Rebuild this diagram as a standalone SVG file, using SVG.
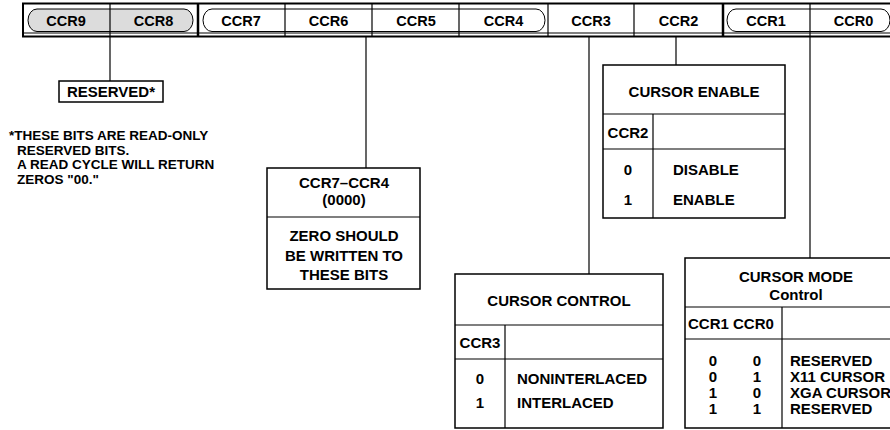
<svg xmlns="http://www.w3.org/2000/svg" width="890" height="430" viewBox="0 0 890 430">
<style>
.t{font-family:"Liberation Sans",Arial,Helvetica,sans-serif;font-weight:bold;fill:#000}
.bar{font-size:14.5px;text-anchor:middle}
.tb{font-size:15px}
.c{text-anchor:middle}
.fn{font-size:13.5px}
.box{fill:#fff;stroke:#000;stroke-width:1.5}
.ln{stroke:#000;stroke-width:1.2;fill:none}
.thk{stroke:#000;stroke-width:2.5;fill:none}
.pill{stroke:#000;stroke-width:1;}
</style>
<rect width="890" height="430" fill="#fff"/>

<g id="register">
  <rect x="23" y="3.5" width="880" height="33" fill="#fff" stroke="#000" stroke-width="2"/>
  <line class="ln" x1="23" y1="33" x2="903" y2="33" stroke-width="1"/>
  <path class="pill" fill="#dcdcdc" d="M37,9 H184 A9,11.25 0 0 1 184,31.5 H37 A9,11.25 0 0 1 37,9 Z"/>
  <path class="pill" fill="#fff" d="M212,9 H536 A9,11.25 0 0 1 536,31.5 H212 A9,11.25 0 0 1 212,9 Z"/>
  <path class="pill" fill="#fff" d="M736,9 H881 A9,11.25 0 0 1 881,31.5 H736 A9,11.25 0 0 1 736,9 Z"/>
  <line class="ln" x1="110" y1="3.5" x2="110" y2="37"/>
  <line class="thk" x1="198" y1="3.5" x2="198" y2="37"/>
  <line class="ln" x1="285" y1="3.5" x2="285" y2="37"/>
  <line class="ln" x1="372" y1="3.5" x2="372" y2="37"/>
  <line class="ln" x1="459" y1="3.5" x2="459" y2="37"/>
  <line class="ln" x1="548" y1="3.5" x2="548" y2="37"/>
  <line class="ln" x1="634" y1="3.5" x2="634" y2="37"/>
  <line class="thk" x1="723" y1="3.5" x2="723" y2="37"/>
  <line class="ln" x1="810" y1="3.5" x2="810" y2="37"/>
  <text class="t bar" x="66" y="25.5">CCR9</text>
  <text class="t bar" x="153.5" y="25.5">CCR8</text>
  <text class="t bar" x="241" y="25.5">CCR7</text>
  <text class="t bar" x="328.5" y="25.5">CCR6</text>
  <text class="t bar" x="416" y="25.5">CCR5</text>
  <text class="t bar" x="503.5" y="25.5">CCR4</text>
  <text class="t bar" x="591" y="25.5">CCR3</text>
  <text class="t bar" x="678.5" y="25.5">CCR2</text>
  <text class="t bar" x="766" y="25.5">CCR1</text>
  <text class="t bar" x="853.5" y="25.5">CCR0</text>
</g>

<g id="connectors">
  <line class="ln" x1="110" y1="37" x2="110" y2="81"/>
  <line class="ln" x1="366" y1="37" x2="366" y2="168"/>
  <line class="ln" x1="589" y1="37" x2="589" y2="274"/>
  <line class="ln" x1="676" y1="37" x2="676" y2="65"/>
  <line class="ln" x1="810" y1="37" x2="810" y2="258"/>
</g>

<g id="reserved">
  <rect class="box" x="59" y="81" width="104" height="21"/>
  <text class="t tb c" x="111" y="97">RESERVED*</text>
</g>

<g id="footnote">
  <text class="t fn" x="9" y="140">*THESE BITS ARE READ-ONLY</text>
  <text class="t fn" x="17" y="154.5">RESERVED BITS.</text>
  <text class="t fn" x="17" y="169">A READ CYCLE WILL RETURN</text>
  <text class="t fn" x="17" y="183.5">ZEROS "00."</text>
</g>

<g id="ccr7-ccr4">
  <rect class="box" x="267" y="168" width="153" height="121"/>
  <line class="ln" x1="267" y1="217" x2="420" y2="217"/>
  <text class="t tb c" x="344" y="188">CCR7–CCR4</text>
  <text class="t tb c" x="344" y="205">(0000)</text>
  <text class="t tb c" x="344" y="241">ZERO SHOULD</text>
  <text class="t tb c" x="344" y="261">BE WRITTEN TO</text>
  <text class="t tb c" x="344" y="280">THESE BITS</text>
</g>

<g id="cursor-enable">
  <rect class="box" x="603" y="65" width="182" height="153"/>
  <line class="ln" x1="603" y1="114" x2="785" y2="114"/>
  <line class="ln" x1="603" y1="149" x2="785" y2="149"/>
  <line class="ln" x1="653" y1="114" x2="653" y2="218"/>
  <text class="t tb c" x="694" y="97">CURSOR ENABLE</text>
  <text class="t tb c" x="628" y="137.5">CCR2</text>
  <text class="t tb c" x="628" y="175">0</text>
  <text class="t tb" x="673" y="175">DISABLE</text>
  <text class="t tb c" x="628" y="205">1</text>
  <text class="t tb" x="673" y="205">ENABLE</text>
</g>

<g id="cursor-control">
  <rect class="box" x="455" y="274" width="208" height="154"/>
  <line class="ln" x1="455" y1="325" x2="663" y2="325"/>
  <line class="ln" x1="455" y1="359" x2="663" y2="359"/>
  <line class="ln" x1="505" y1="325" x2="505" y2="428"/>
  <text class="t tb c" x="559" y="306">CURSOR CONTROL</text>
  <text class="t tb c" x="480" y="348">CCR3</text>
  <text class="t tb c" x="480" y="383.5">0</text>
  <text class="t tb" x="517" y="383.5">NONINTERLACED</text>
  <text class="t tb c" x="480" y="408">1</text>
  <text class="t tb" x="517" y="408">INTERLACED</text>
</g>

<g id="cursor-mode">
  <rect class="box" x="685" y="258" width="222" height="170"/>
  <line class="ln" x1="685" y1="307" x2="907" y2="307"/>
  <line class="ln" x1="685" y1="339" x2="907" y2="339"/>
  <line class="ln" x1="782" y1="307" x2="782" y2="428"/>
  <text class="t tb c" x="796" y="282">CURSOR MODE</text>
  <text class="t tb c" x="796" y="300">Control</text>
  <text class="t tb" x="688" y="329">CCR1 CCR0</text>
  <text class="t tb c" x="713" y="366">0</text>
  <text class="t tb c" x="757" y="366">0</text>
  <text class="t tb" x="790" y="366">RESERVED</text>
  <text class="t tb c" x="713" y="382">0</text>
  <text class="t tb c" x="757" y="382">1</text>
  <text class="t tb" x="790" y="382">X11 CURSOR</text>
  <text class="t tb c" x="713" y="398">1</text>
  <text class="t tb c" x="757" y="398">0</text>
  <text class="t tb" x="790" y="398">XGA CURSOR</text>
  <text class="t tb c" x="713" y="413.5">1</text>
  <text class="t tb c" x="757" y="413.5">1</text>
  <text class="t tb" x="790" y="413.5">RESERVED</text>
</g>
</svg>
